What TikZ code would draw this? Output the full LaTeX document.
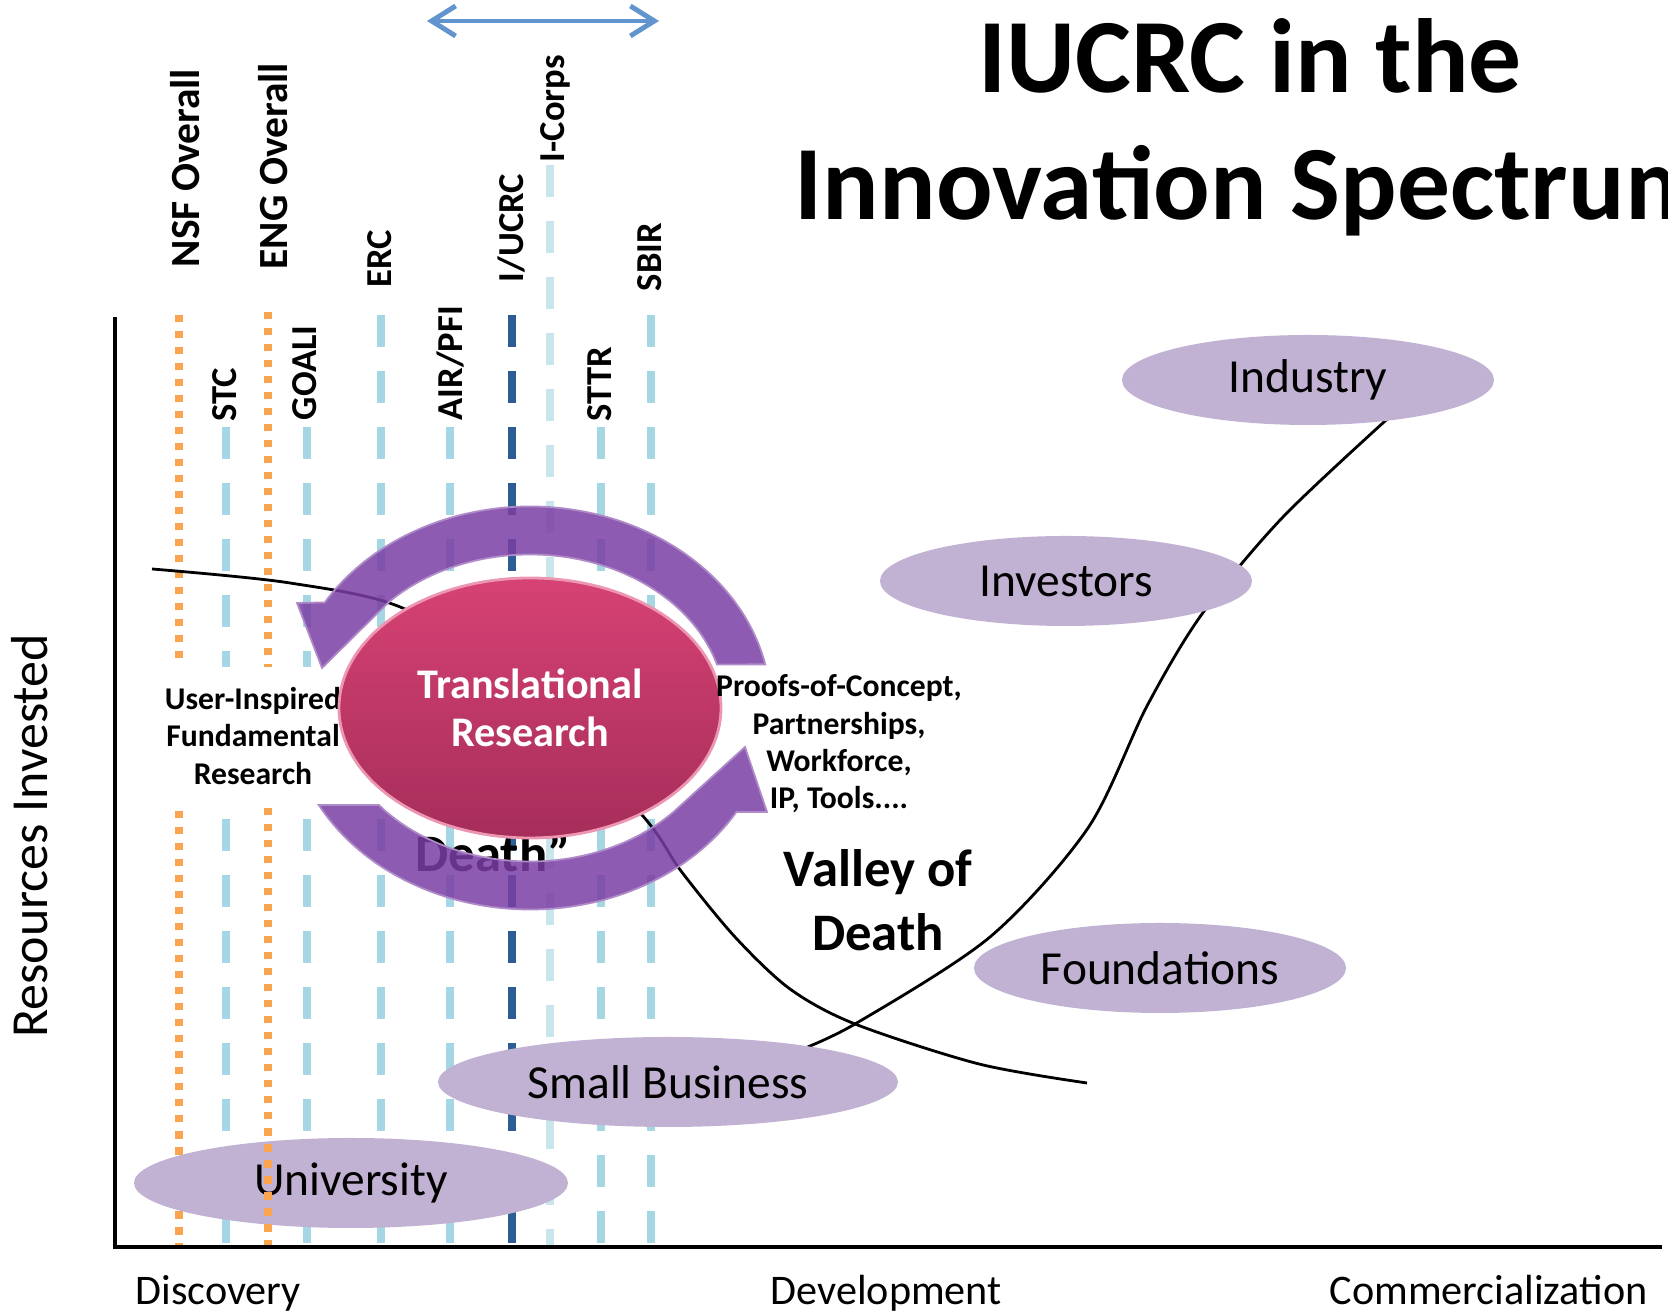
\documentclass[tikz,border=0pt]{standalone}
\usepackage{fontspec}
\setmainfont{Carlito}
\usetikzlibrary{shapes.geometric, arrows.meta}
\definecolor{progblue}{RGB}{165,214,228}
\definecolor{ucrcblue}{RGB}{43,94,148}
\definecolor{corpsblue}{RGB}{200,230,235}
\definecolor{fundorange}{RGB}{249,165,80}
\definecolor{lavender}{RGB}{193,178,211}
\definecolor{cyclepurple}{RGB}{122,62,164}
\definecolor{transtop}{RGB}{214,66,116}
\definecolor{transbot}{RGB}{166,45,90}
\definecolor{spanblue}{RGB}{98,148,205}

\begin{document}
\begin{tikzpicture}[>=stealth,
  stakeholder/.style={ellipse, fill=lavender, minimum width=3.72cm, minimum height=0.90cm, inner sep=0pt, font=\fontsize{13.5}{16}\selectfont},
  prog/.style={rotate=90, anchor=base west, inner sep=0pt, font=\bfseries\fontsize{10.4}{12}\selectfont},
  bigprog/.style={prog, font=\bfseries\fontsize{11.8}{14}\selectfont},
  progline/.style={line width=0.075cm, dash pattern=on 0.32cm off 0.24cm},
  fundline/.style={fundorange, line width=0.075cm, dash pattern=on 0.075cm off 0.085cm},
  cyclearrow/.style={fill=cyclepurple, fill opacity=0.85, draw=cyclepurple!60!white, line width=0.5pt},
  axislabel/.style={anchor=base west, inner sep=0pt, font=\fontsize{12}{14}\selectfont}]
\useasboundingbox (0,0) rectangle (16.68,13.14);
\clip (0,0) rectangle (16.68,13.14);

\foreach \x/\ytop/\col in {2.26/8.87/progblue, 3.07/8.87/progblue, 3.81/9.99/progblue, 4.50/8.87/progblue, 5.12/9.99/ucrcblue, 5.50/11.49/corpsblue, 6.01/8.87/progblue, 6.51/9.99/progblue}
  \draw[progline, \col] (\x,\ytop) -- (\x,0.65);
\draw[fundline] (1.79,9.99) -- (1.79,0.69);
\node[stakeholder, minimum width=4.34cm] (univ) at (3.51,1.31) {University};
\draw[fundline] (2.68,10.02) -- (2.68,0.69);

\draw[line width=0.8pt] plot[smooth] coordinates {(1.52,7.45) (2.90,7.31) (4.07,7.04) (5.25,6.20) (6.42,4.99) (6.81,4.43) (7.35,3.77) (7.90,3.25) (8.55,2.90) (9.79,2.50) (10.87,2.31)};
\draw[line width=0.8pt] plot[smooth] coordinates {(7.95,2.62) (8.55,2.90) (9.90,3.77) (10.88,4.86) (11.47,6.08) (12.02,7.00) (12.83,7.97) (13.95,9.02)};

\node[anchor=base, inner sep=0pt, font=\bfseries\fontsize{15}{18}\selectfont] (olddeath) at (4.93,4.42) {Death”};

\fill[white] (1.55,5.06) rectangle (3.95,6.47);
\node[align=center, font=\bfseries\fontsize{9}{10.7}\selectfont] (basic) at (2.53,5.78) {User-Inspired\\Fundamental\\Research};

\begin{scope}[shift={(5.30,6.06)}]
\filldraw[cyclearrow] (12.5:2.41 and 2.015) arc[start angle=12.5, end angle=148.4, x radius=2.41, y radius=2.015] -- (-2.33,1.05) -- (-2.08,0.40) -- (136.6:1.95 and 1.535) arc[start angle=136.6, end angle=16.5, x radius=1.95, y radius=1.535] -- cycle;
\filldraw[cyclearrow] (208.8:2.41 and 2.015) arc[start angle=208.8, end angle=328.9, x radius=2.41, y radius=2.015] -- (2.37,-1.04) -- (2.15,-0.39) -- (317.4:1.95 and 1.535) arc[start angle=317.4, end angle=219.2, x radius=1.95, y radius=1.535] -- cycle;
\end{scope}

\node[ellipse, minimum width=3.82cm, minimum height=2.60cm, top color=transtop, bottom color=transbot, draw={rgb,255:red,236;green,150;blue,178}, line width=0.8pt, text=white, align=center, font=\bfseries\fontsize{12}{13.7}\selectfont] (transl) at (5.30,6.06) {Translational\\Research};

\node[stakeholder, minimum width=4.60cm] (smallbiz) at (6.68,2.32) {Small Business};
\node[stakeholder] (found) at (11.60,3.46) {Foundations};
\node[stakeholder] (invest) at (10.66,7.33) {Investors};
\node[stakeholder] (industry) at (13.08,9.34) {Industry};

\node[bigprog] (nsf) at (2.00,10.46) {NSF Overall};
\node[bigprog] (eng) at (2.875,10.44) {ENG Overall};
\node[prog] (erc) at (3.91,10.26) {ERC};
\node[prog] (iucrc) at (5.23,10.31) {I/UCRC};
\node[prog] (icorps) at (5.64,11.51) {I-Corps};
\node[prog] (sbir) at (6.61,10.22) {SBIR};
\node[prog] (stc) at (2.36,8.92) {STC};
\node[prog] (goali) at (3.16,8.93) {GOALI};
\node[prog] (airpfi) at (4.62,8.93) {AIR/PFI};
\node[prog] (sttr) at (6.11,8.92) {STTR};

\coordinate (spanL) at (4.27,12.93);
\coordinate (spanR) at (6.59,12.93);
\draw[{Straight Barb[length=0.24cm, width=0.30cm]}-{Straight Barb[length=0.24cm, width=0.30cm]}, spanblue, line width=1.4pt] (spanL) -- (spanR);

\node[anchor=base, inner sep=0pt, font=\bfseries\fontsize{30}{36}\selectfont] (title) at (12.50,12.21) {IUCRC in the};
\node[anchor=base west, inner sep=0pt, font=\bfseries\fontsize{30}{36}\selectfont] (subtitle) at (7.94,10.94) {Innovation Spectrum};

\node[align=center, font=\bfseries\fontsize{9}{10.6}\selectfont] (outputs) at (8.39,5.70) {Proofs-of-Concept,\\Partnerships,\\Workforce,\\IP, Tools....};
\node[align=center, font=\bfseries\fontsize{15}{18.2}\selectfont] (valley) at (8.78,4.14) {Valley of\\Death};

\coordinate (ytop) at (1.15,9.97);
\coordinate (origin) at (1.15,0.67);
\coordinate (xend) at (16.62,0.67);
\draw[line width=1.3pt] (ytop) -- (origin) -- (xend);

\node[axislabel] (discovery) at (1.35,0.09) {Discovery};
\node[axislabel] (development) at (7.70,0.09) {Development};
\node[axislabel] (commercial) at (13.29,0.09) {Commercialization};
\node[rotate=90, anchor=base, inner sep=0pt, font=\fontsize{14.8}{17}\selectfont] (resources) at (0.48,4.78) {Resources Invested};
\end{tikzpicture}
\end{document}
